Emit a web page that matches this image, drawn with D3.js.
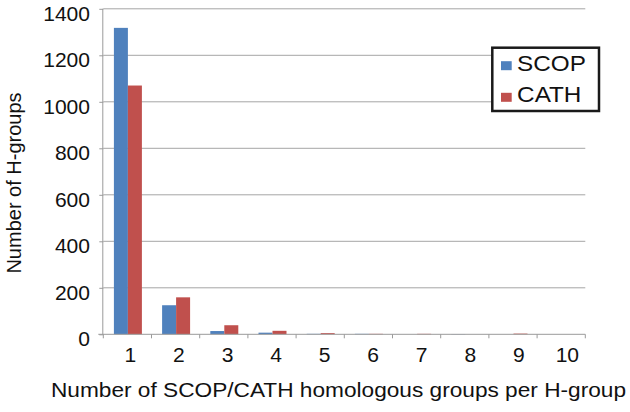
<!DOCTYPE html>
<html>
<head>
<meta charset="utf-8">
<script src="https://cdn.jsdelivr.net/npm/d3@7"></script>
<style>
  body { margin: 0; background: #fff; }
  svg text { font-family: "Liberation Sans", Arial, sans-serif; fill: #111; }
</style>
</head>
<body>
<div id="chart"></div>
<script>
// values
const categories = ["1", "2", "3", "4", "5", "6", "7", "8", "9", "10"];
const scopValues = [1318, 125, 14, 7, 2, 2, 0, 1, 0, 0];
const cathValues = [1070, 159, 39, 15, 5, 2, 2, 0, 3, 0];
const seriesNames = ["SCOP", "CATH"];
const seriesColors = ["#4F81BD", "#C0504D"];
const yTicks = [0, 200, 400, 600, 800, 1000, 1200, 1400];

const width = 630, height = 412;
const margin = { top: 8.8, right: 44.7, bottom: 77.7, left: 103.3 };
const innerW = width - margin.left - margin.right;
const innerH = height - margin.top - margin.bottom;
const stretch = 1.08; // the reference text is slightly wider than Arial

const svg = d3.select("#chart").append("svg")
    .attr("width", width)
    .attr("height", height);

const g = svg.append("g")
    .attr("transform", `translate(${margin.left},${margin.top})`);

const data = categories.map((c, i) => ({
    cat: c,
    series: seriesNames.map((s, j) => ({ name: s, value: [scopValues, cathValues][j][i] }))
}));

const x0 = d3.scaleBand().domain(categories).range([0, innerW]).padding(0);
const pad = x0.bandwidth() * 0.22;
const x1 = d3.scaleBand().domain(seriesNames).range([pad, x0.bandwidth() - pad + 1]).padding(0);
const y = d3.scaleLinear().domain([0, 1400]).range([innerH, 0]);
const color = d3.scaleOrdinal().domain(seriesNames).range(seriesColors);

// gridlines
g.append("g").selectAll("line")
    .data(yTicks.filter(d => d > 0))
    .enter().append("line")
    .attr("x1", 0).attr("x2", innerW)
    .attr("y1", d => y(d)).attr("y2", d => y(d))
    .attr("stroke", "#a6a6a6")
    .attr("stroke-width", 1);

// y axis
const yAxis = g.append("g")
    .call(d3.axisLeft(y).tickValues(yTicks).tickFormat(d3.format("d")).tickSize(4).tickPadding(8.3));
yAxis.select(".domain").attr("stroke", "#9a9a9a").attr("d", `M-0.5,0V${innerH}`);
yAxis.selectAll(".tick line").attr("stroke", "#9a9a9a");
yAxis.selectAll(".tick text")
    .attr("dy", "11.5")
    .attr("transform", `scale(${stretch},1)`)
    .style("font-size", "19.5px")
    .attr("fill", "#111");

// bars
const groups = g.selectAll(".grp")
    .data(data)
    .enter().append("g")
    .attr("class", "grp")
    .attr("transform", d => `translate(${x0(d.cat)},0)`);

groups.selectAll("rect")
    .data(d => d.series)
    .enter().append("rect")
    .attr("x", d => x1(d.name))
    .attr("y", d => y(d.value))
    .attr("width", x1.bandwidth())
    .attr("height", d => innerH - y(d.value))
    .attr("fill", d => color(d.name));

// x axis with ticks between categories
const xAxis = g.append("g").attr("transform", `translate(0,${innerH})`);
xAxis.append("line")
    .attr("x1", -5).attr("x2", innerW)
    .attr("stroke", "#9a9a9a");
xAxis.selectAll(".sep")
    .data(d3.range(categories.length + 1))
    .enter().append("line")
    .attr("x1", d => d * x0.bandwidth()).attr("x2", d => d * x0.bandwidth())
    .attr("y1", 0).attr("y2", 4)
    .attr("stroke", "#9a9a9a");
xAxis.selectAll(".lbl")
    .data(categories)
    .enter().append("text")
    .attr("transform", (d, i) => `translate(${x0(d) + x0.bandwidth() / 2 + 3 + i * 0.35},27.5) scale(${stretch},1)`)
    .attr("text-anchor", "middle")
    .style("font-size", "19.5px")
    .text(d => d);

// axis titles
svg.append("text")
    .attr("transform", "translate(21,183) rotate(-90)")
    .attr("text-anchor", "middle")
    .style("font-size", "20px")
    .text("Number of H-groups");

svg.append("text")
    .attr("x", 51)
    .attr("y", 397.3)
    .attr("textLength", 575)
    .attr("lengthAdjust", "spacingAndGlyphs")
    .style("font-size", "20px")
    .text("Number of SCOP/CATH homologous groups per H-group");

// legend
const legend = svg.append("g").attr("transform", "translate(492.3,47.7)");
legend.append("rect")
    .attr("width", 106.7).attr("height", 63.3)
    .attr("fill", "#fff")
    .attr("stroke", "#1a1a1a")
    .attr("stroke-width", 2.5);
const items = legend.selectAll(".item")
    .data(seriesNames)
    .enter().append("g")
    .attr("transform", (d, i) => `translate(0,${i * 31.6})`);
items.append("rect")
    .attr("x", 8.7).attr("y", 13.5)
    .attr("width", 10.7).attr("height", 9)
    .attr("fill", d => color(d));
items.append("text")
    .attr("transform", `translate(24.8,23) scale(${stretch},1)`)
    .style("font-size", "22.5px")
    .text(d => d);
</script>
</body>
</html>
